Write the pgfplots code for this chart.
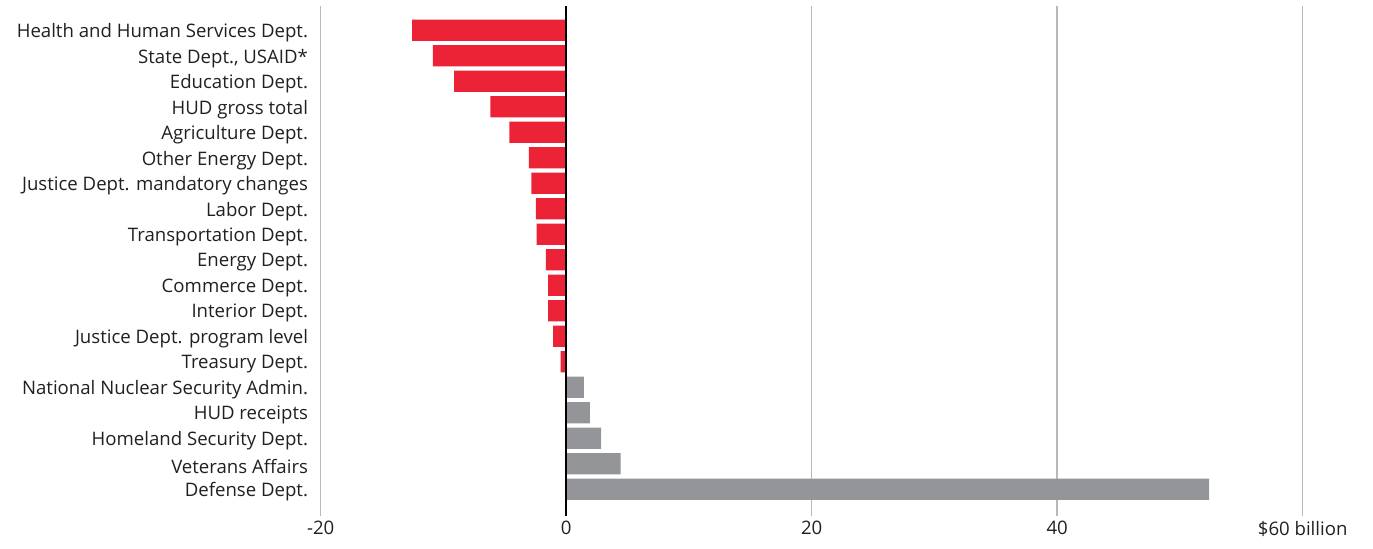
\documentclass[border=0pt]{standalone}
\usepackage{pgfplots}
\pgfplotsset{compat=1.18}
\usepackage{fontspec}
\setmainfont{Open Sans}
\definecolor{barred}{HTML}{EC2337}
\definecolor{bargrey}{HTML}{939598}
\definecolor{gridgrey}{HTML}{B8B8B8}
\definecolor{txt}{HTML}{231F20}
\pgfplotstableread{
y x
0 -12.56
1 -10.86
2 -9.14
3 -6.18
4 -4.63
5 -3.05
6 -2.83
7 -2.48
8 -2.40
9 -1.66
10 -1.47
11 -1.47
12 -1.06
13 -0.46
}\negdata
\pgfplotstableread{
y x
14 1.44
15 1.93
16 2.85
17 4.43
18 52.37
}\posdata
\begin{document}
\begin{tikzpicture}
\begin{axis}[
 scale only axis, width=982bp, height=510bp,
 xmin=-20, xmax=60, ymin=-0.95, ymax=19.05, y dir=reverse,
 axis line style={draw=none},
 major tick length=0pt,
 xtick={-20,20,40,60}, xticklabels={-20,20,40,{\$60 billion}},
 extra x ticks={0}, extra x tick labels={0},
 extra x tick style={grid=none},
 xmajorgrids, grid style={gridgrey, line width=1.5bp},
 ytick={0,...,18},
 yticklabels={Health and Human Services Dept.,{State Dept., USAID*},Education Dept.,HUD gross total,Agriculture Dept.,Other Energy Dept.,Justice Dept. mandatory changes,Labor Dept.,Transportation Dept.,Energy Dept.,Commerce Dept.,Interior Dept.,Justice Dept. program level,Treasury Dept.,National Nuclear Security Admin.,HUD receipts,Homeland Security Dept.,Veterans Affairs,Defense Dept.},
 tick label style={font=\fontsize{18.6bp}{21bp}\selectfont, text=txt, inner sep=0pt},
 yticklabel style={xshift=-12.5bp, yshift=-2.5bp},
 xticklabel style={yshift=-5bp},
 clip=false,
]
\addplot[xbar, bar shift=0pt, bar width=21.4bp, fill=barred, draw=none] table[x=x,y=y] {\negdata};
\addplot[xbar, bar shift=0pt, bar width=21.4bp, fill=bargrey, draw=none] table[x=x,y=y] {\posdata};
\draw[black, line width=2.6bp] (axis cs:0,-0.95) -- (axis cs:0,19.05);
\end{axis}
\pgfresetboundingbox
\path ([shift={(-320.7bp,-33bp)}]current axis.south west) rectangle ([shift={(70.3bp,6bp)}]current axis.north east);
\end{tikzpicture}
\end{document}
